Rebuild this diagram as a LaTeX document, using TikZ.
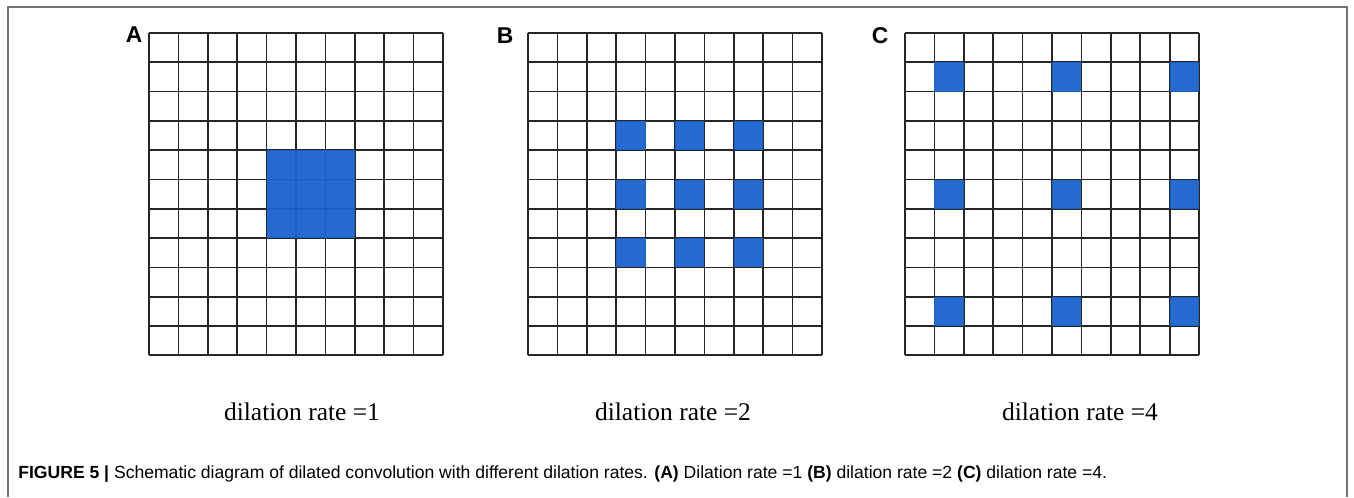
\documentclass[tikz,border=0pt]{standalone}
\usepackage{fontspec}
\setmainfont{Liberation Serif}
\newfontfamily\capfont{Liberation Sans}
\usepackage{tikz}

\definecolor{kernelblue}{RGB}{24,98,204}

\tikzset{
  gridline/.style={draw=black!85,line width=1pt},
  kernelcell/.style={fill=kernelblue,opacity=0.95},
  panellabel/.style={font=\capfont\bfseries\fontsize{13}{15}\selectfont,inner sep=0pt},
  ratelabel/.style={font=\fontsize{14.5}{17}\selectfont,inner sep=0pt,anchor=base},
  framebox/.style={draw=black!55,line width=0.6pt}
}

\begin{document}
\begin{tikzpicture}[x=0.02cm,y=-0.02cm]
    \useasboundingbox (0,0) rectangle (1354,497);
    % Draw the frame (open at the bottom)
    \draw[framebox] (8,497) -- (8,7) -- (1347,7) -- (1347,497);
    % Draw the three 10 x 11 grids and the kernel cells
    \foreach \x/\cells in {149/{4/4,5/4,6/4,4/5,5/5,6/5,4/6,5/6,6/6},
                           528/{3/3,5/3,7/3,3/5,5/5,7/5,3/7,5/7,7/7},
                           905/{1/1,5/1,9/1,1/5,5/5,9/5,1/9,5/9,9/9}}{
      \begin{scope}[shift={(\x,33)}]
        \foreach \i in {0,...,10}{
          \draw[gridline] (\i*29.4,0) -- (\i*29.4,11*29.3);
        }
        \foreach \j in {0,...,11}{
          \draw[gridline] (0,\j*29.3) -- (10*29.4,\j*29.3);
        }
        \foreach \c/\r in \cells{
          \fill[kernelcell] (\c*29.4,\r*29.3) rectangle ++(29.4,29.3);
        }
      \end{scope}
    }
    % Panel letters
    \node[panellabel] (labA) at (134,35) {A};
    \node[panellabel] (labB) at (505,36) {B};
    \node[panellabel] (labC) at (880,36) {C};
    % Dilation rates under the grids
    \node[ratelabel] (rateA) at (302,420) {dilation rate =1};
    \node[ratelabel] (rateB) at (673,420) {dilation rate =2};
    \node[ratelabel] (rateC) at (1080,420) {dilation rate =4};
    % Caption
    \node[anchor=base west,inner sep=0pt,font=\capfont\fontsize{10}{12}\selectfont] (caption) at (18,478)
      {\textbf{FIGURE 5 |} Schematic diagram of dilated convolution with different dilation rates. \textbf{(A)} Dilation rate =1 \textbf{(B)} dilation rate =2 \textbf{(C)} dilation rate =4.};
\end{tikzpicture}
\end{document}
